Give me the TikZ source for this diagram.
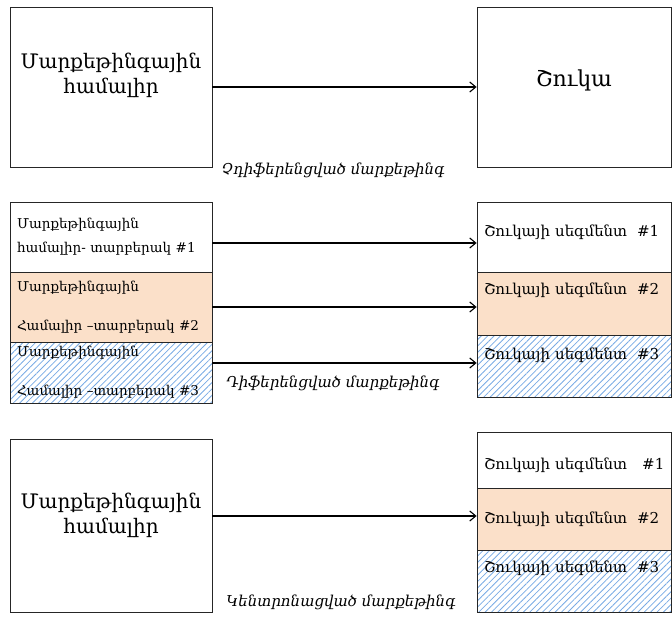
\documentclass[tikz,border=0pt]{standalone}
\usepackage{fontspec}
\setmainfont{DejaVu Serif}
\usetikzlibrary{positioning,calc,arrows.meta,patterns.meta}
\definecolor{peach}{RGB}{251,224,201}
\definecolor{hatchblue}{RGB}{120,170,228}
% shift text up without changing the box size
\newcommand{\lift}[2]{\raisebox{#1}[\height][\depth]{#2}}
\tikzset{
  mixbox/.style={draw=black!85, line width=0.8pt, minimum width=202pt, inner sep=0pt,
    align=center, font=\fontsize{20}{27}\selectfont},
  rowL/.style={draw=black!85, line width=0.8pt, minimum width=202pt, text width=188pt,
    inner xsep=7pt, inner ysep=0pt, align=left, font=\fontsize{13.5}{24}\selectfont},
  rowR/.style={draw=black!85, line width=0.8pt, minimum width=194pt, text width=180pt,
    inner xsep=7pt, inner ysep=0pt, align=left, font=\fontsize{15}{20}\selectfont},
  peachfill/.style={fill=peach},
  hatched/.style={pattern={Lines[angle=45,distance=4.5pt,line width=0.8pt]}, pattern color=hatchblue},
  note/.style={font=\fontsize{15}{18}\selectfont\itshape},
  flow/.style={-{Straight Barb[length=6pt,width=10pt]}, line width=1.1pt}
}
\begin{document}
\begin{tikzpicture}[x=1pt,y=-1pt]
\useasboundingbox (0,0) rectangle (672,620);

% undifferentiated
\node[mixbox, minimum height=160pt] (mixA) at (111,87) {\lift{11pt}{\begin{tabular}{@{}c@{}}Մարքեթինգային\\[-2pt]համալիր\end{tabular}}};
\node[mixbox, minimum width=194pt, minimum height=160pt, font=\fontsize{22}{26}\selectfont] (market) at (574,87) {\lift{7pt}{Շուկա}};
\draw[flow] (mixA) -- (market);
\node[note] (lblA) at (333,170) {Չդիֆերենցված մարքեթինգ};

% differentiated
\node[rowL, minimum height=70pt] (mixB1) at (111,237) {Մարքեթինգային\\համալիր- տարբերակ \#1};
\node[rowL, peachfill, minimum height=70pt] (mixB2) at (111,307) {Մարքեթինգային\\[15pt]Համալիր –տարբերակ \#2};
\node[rowL, hatched, minimum height=61pt] (mixB3) at (111,372.5) {Մարքեթինգային\\[15pt]Համալիր –տարբերակ \#3};
\node[rowR, minimum height=70pt] (segB1) at (574,237) {\lift{5pt}{Շուկայի սեգմենտ \ \#1}};
\node[rowR, peachfill, minimum height=63pt] (segB2) at (574,303.5) {\lift{13pt}{Շուկայի սեգմենտ \ \#2}};
\node[rowR, hatched, minimum height=62pt] (segB3) at (574,366) {\lift{11pt}{Շուկայի սեգմենտ \ \#3}};
\draw[flow] (mixB1.east |- 0,243) -- (segB1.west |- 0,243);
\draw[flow] (mixB2.east |- 0,307) -- (segB2.west |- 0,307);
\draw[flow] (mixB3.east |- 0,363) -- (segB3.west |- 0,363);
\node[note] (lblB) at (333,383) {Դիֆերենցված մարքեթինգ};

% concentrated
\node[mixbox, minimum height=173pt] (mixC) at (111,525.5) {\lift{10pt}{\begin{tabular}{@{}c@{}}Մարքեթինգային\\[-2pt]համալիր\end{tabular}}};
\node[rowR, minimum height=56pt] (segC1) at (574,460) {\lift{-5pt}{Շուկայի սեգմենտ \ \ \#1}};
\node[rowR, peachfill, minimum height=62pt] (segC2) at (574,519) {Շուկայի սեգմենտ \ \#2};
\node[rowR, hatched, minimum height=62pt] (segC3) at (574,581) {\lift{13pt}{Շուկայի սեգմենտ \ \#3}};
\draw[flow] (mixC.east |- 0,516) -- (segC2.west |- 0,516);
\node[note] (lblC) at (341,602) {Կենտրոնացված մարքեթինգ};
\end{tikzpicture}
\end{document}
